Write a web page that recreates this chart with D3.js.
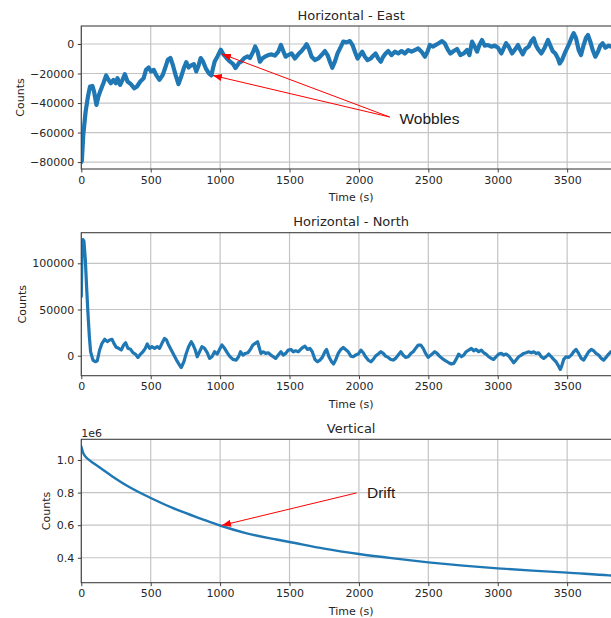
<!DOCTYPE html>
<html><head><meta charset="utf-8">
<script src="https://cdn.jsdelivr.net/npm/d3@7"></script>
<style>body{margin:0;background:#fff}svg{display:block}</style>
</head><body>
<svg id="c" width="611" height="618"></svg>
<script>
// ---------- data ----------
const xTicks = [0, 500, 1000, 1500, 2000, 2500, 3000, 3500];
const eastTicks = [0, -20000, -40000, -60000, -80000];
const northTicks = [0, 50000, 100000];
const vertTicks = [400000, 600000, 800000, 1000000];
const titles = ["Horizontal - East", "Horizontal - North", "Vertical"];

const eastT = [0,4,14,31,48,63,80,92,109,123,140,159,179,196,213,232,249,261,280,297,314,333,357,382,401,425,449,466,485,502,522,539,563,587,604,623,642,659,679,700,720,739,756,773,792,811,828,845,860,877,896,918,937,949,961,981,1005,1022,1046,1070,1094,1111,1135,1154,1174,1198,1215,1239,1253,
1270,1287,1304,1323,1347,1371,1395,1419,1438,1455,1472,1491,1515,1539,1563,1587,1611,1623,1640,1659,1683,1707,1731,1755,1774,1791,1808,1827,1846,1870,1887,1911,1935,1954,1971,1990,2007,2024,2043,2062,2086,2103,2120,2139,2158,2175,2192,2211,2235,2259,2283,2307,2331,2355,2379,2403,2427,2451,2475,2494,2511,2535,
2551,2575,2599,2618,2642,2659,2683,2707,2731,2755,2779,2796,2815,2834,2851,2868,2887,2906,2930,2954,2978,3002,3026,3043,3060,3079,3103,3127,3146,3163,3180,3199,3223,3242,3259,3276,3295,3314,3338,3362,3379,3396,3415,3434,3446,3463,3482,3499,3516,3535,3547,3564,3583,3600,3619,3636,3650,3667,3684,3703,3722,3739,3756,3775,3799,3816,3840];
const eastV = [-80000,-79000,-61700,-45900,-35600,-28800,-28400,-32200,-41300,-35600,-31100,-26600,-21300,-24300,-26600,-24300,-26600,-23200,-27700,-24300,-20400,-25400,-27200,-30000,-28800,-25400,-23200,-17500,-15900,-18600,-17500,-20900,-24300,-20900,-16300,-10700,-9500,-14100,-20900,-27200,-22000,-16300,-12300,-15900,-14500,-13600,-18600,-14500,-9500,-11800,-16300,-19700,-21300,-16300,-11800,-8400,-3900,-6800,-9500,-11800,-13600,-16300,-12900,-11800,-9500,-8400,-9500,-5000,-1700,
-5200,-12000,-9800,-8600,-7500,-7000,-7900,-5200,-700,-4800,-8600,-7500,-6400,-9800,-7000,-4800,-1800,-200,-3400,-8600,-10900,-9800,-7500,-4800,-7500,-12000,-16100,-12000,-6400,-1800,1600,1100,2000,-700,-5200,-9800,-7500,-5200,-8600,-10900,-9800,-7900,-6400,-9800,-12000,-8600,-6400,-4800,-7500,-5200,-6400,-4800,-6400,-4100,-5200,-4100,-3000,-5200,-8600,-5200,-700,-1800,
-700,500,2000,500,-4100,-6400,-4800,-3400,-7500,-6400,-4100,-7500,1600,-1800,-5200,-700,2700,-1100,-700,-1800,-1100,-2500,-6400,-3000,500,-1800,-6400,-3400,-700,-4100,-7000,-3400,-1800,2000,3900,-1100,-4100,-6400,-2500,2700,-1100,-4800,-6400,-9800,-13200,-10900,-6400,-3000,500,5000,7300,3900,-4100,-7500,-700,4300,6100,1600,-4100,-8600,-5200,-1100,500,-2500,-1100,-1800,-1500];

const northT = [0,5,12,19,29,38,48,58,67,84,101,115,132,149,168,187,204,221,235,252,269,288,305,319,336,355,372,389,408,427,444,461,475,492,509,528,547,564,581,600,614,629,648,667,686,708,720,739,756,773,792,806,821,835,852,869,888,907,924,941,960,979,996,1013,1032,1051,1068,1092,1116,1133,1147,1164,1181,1200,1219,1236,1253,
1270,1280,1294,1311,1328,1347,1366,1383,1400,1419,1438,1455,1472,1491,1510,1527,1544,1563,1587,1611,1630,1647,1664,1683,1702,1719,1736,1755,1767,1784,1803,1817,1832,1851,1870,1887,1904,1923,1942,1959,1976,1995,2014,2031,2048,2067,2086,2103,2120,2139,2158,2175,2192,2211,2230,2247,2264,2283,2302,2319,2336,2355,2374,2391,2408,2427,2446,2463,2480,2499,2518,
2546,2563,2580,2599,2623,2647,2666,2683,2700,2719,2738,2755,2772,2791,2810,2827,2844,2863,2882,2899,2916,2935,2954,2971,2988,3007,3026,3043,3060,3079,3098,3115,3132,3151,3170,3187,3204,3223,3242,3259,3276,3295,3314,3331,3348,3367,3386,3403,3420,3434,3451,3463,3475,3492,3511,3530,3547,3564,3583,3602,3619,3636,3655,3674,3691,3708,3727,3746,3763,3780,3799,3816,3840];
const northV = [64100,114800,125700,123900,104000,75000,46000,20600,4300,-4700,-6500,-5400,6200,13400,17800,15200,17000,17800,13400,9100,8000,6200,11600,14100,8000,6900,3300,1800,-1800,1800,4300,8000,12700,8000,9800,8000,9800,8000,13400,18800,17000,11600,6200,700,-4700,-10100,-12700,-6500,2500,9800,15200,11600,6200,-1100,4300,9800,8000,3300,-2900,-1100,4300,1800,6900,11600,8000,3300,-400,-4000,-4700,-1100,4300,700,2500,3300,6900,11600,13400,
15100,9700,2500,4300,2500,3200,700,-1100,-2900,700,4300,700,2500,6100,6800,4300,5400,4300,7900,10400,6800,7900,4300,-4000,-6500,-4700,-1800,4300,6800,-1100,-6500,-9000,-4700,2500,6800,9000,6800,4300,-400,-1100,700,1800,6100,3200,-1100,-4700,-6500,-4000,-400,1800,4300,2500,-400,-1800,-4000,-4700,-2900,700,4300,700,-1800,-1100,2500,4300,7900,11500,11500,7900,2500,-1800,700,
4300,2500,-400,-2900,-5400,-7600,-9000,-8300,-4000,1800,-1100,700,4300,6100,7900,5400,6800,4300,6100,3200,1800,-1100,-2900,-4000,-1100,1800,2500,700,1800,-400,-4000,-7600,-4700,-1100,700,2500,3200,4300,3200,4300,2500,3200,-1100,-2900,-1100,1800,-1100,-4000,-6500,-10100,-14800,-10100,-4000,-1100,-1800,700,4300,6800,2500,-2900,-4700,-400,4300,6800,5400,2500,700,-2900,-4700,-1800,1800,4300,6000];

const vertT = [0,12,29,60,120,216,336,500,697,865,1000,1178,1406,1500,1750,2000,2250,2500,2750,3000,3250,3500,3800,3900];
const vertV = [1084000,1047000,1022000,998000,961000,904000,839000,767000,692000,639000,598000,553000,512000,497000,456000,423000,396000,372000,352000,335000,321000,309000,292000,288000];

// annotations (data coordinates)
const wobblesText = {t: 2292, v: -50170, label: "Wobbles"};
const wobblesTail = {t: 2222, v: -49490};
const wobblesTips = [{t: 1014, v: -6780}, {t: 948, v: -21290}];
const driftText = {t: 2058, v: 804000, label: "Drift"};
const driftTail = {t: 1983, v: 798000};
const driftTip = {t: 1014, v: 599000};

// ---------- layout ----------
const left = 81.3, right = 621;
const svg = d3.select("#c");
const x = d3.scaleLinear().domain([0, 3888]).range([left, right]);

const panels = [
  {title: titles[0], top: 26, bottom: 169, domain: [-84700, 12200], ticks: eastTicks,
   fmt: d3.format("d"), t: eastT, v: eastV, sw: 4.2, ylabX: 19.5, titleY: 19.5, curve: d3.curveLinear},
  {title: titles[1], top: 232.7, bottom: 375.7, domain: [-21600, 133100], ticks: northTicks,
   fmt: d3.format("d"), t: northT, v: northV, sw: 3.2, ylabX: 21.5, titleY: 226, curve: d3.curveLinear},
  {title: titles[2], top: 439.3, bottom: 582.7, domain: [247000, 1127000], ticks: vertTicks,
   fmt: d => (d / 1e6).toFixed(1), t: vertT, v: vertV, sw: 2.4, ylabX: 46, titleY: 432.5, curve: d3.curveMonotoneX, offset: "1e6"}
];

const defs = svg.append("defs");
defs.append("marker").attr("id", "ah").attr("markerUnits", "userSpaceOnUse")
  .attr("markerWidth", 10).attr("markerHeight", 8).attr("refX", 9).attr("refY", 3.5)
  .attr("orient", "auto")
  .append("path").attr("d", "M0,0 L9,3.5 L0,7 Z").attr("fill", "#ff0000");

const textColor = "#262626";
const font = "DejaVu Sans, sans-serif";

panels.forEach((p, i) => {
  const y = d3.scaleLinear().domain(p.domain).range([p.bottom, p.top]);
  p.y = y;
  const g = svg.append("g");
  defs.append("clipPath").attr("id", "clip" + i).append("rect")
    .attr("x", left).attr("y", p.top).attr("width", right - left).attr("height", p.bottom - p.top);

  // grid
  g.selectAll(".vg").data(xTicks).join("line")
    .attr("x1", d => x(d)).attr("x2", d => x(d)).attr("y1", p.top).attr("y2", p.bottom)
    .attr("stroke", "#c4c4c4").attr("stroke-width", 1.2);
  g.selectAll(".hg").data(p.ticks).join("line")
    .attr("x1", left).attr("x2", right).attr("y1", d => y(d)).attr("y2", d => y(d))
    .attr("stroke", "#c4c4c4").attr("stroke-width", 1.2);

  // line
  const pts = p.t.map((t, k) => [t, p.v[k]]);
  g.append("path").datum(pts)
    .attr("clip-path", `url(#clip${i})`)
    .attr("d", d3.line().x(d => x(d[0])).y(d => y(d[1])).curve(p.curve))
    .attr("fill", "none").attr("stroke", "#1f77b4").attr("stroke-width", p.sw)
    .attr("stroke-linejoin", "round").attr("stroke-linecap", "round");

  // spines
  g.append("rect").attr("x", left).attr("y", p.top).attr("width", right - left).attr("height", p.bottom - p.top)
    .attr("fill", "none").attr("stroke", "#404040").attr("stroke-width", 1.1);

  // axes
  const xa = g.append("g").attr("transform", `translate(0,${p.bottom})`)
    .call(d3.axisBottom(x).tickValues(xTicks).tickFormat(d3.format("d")).tickSize(3.5).tickSizeOuter(0).tickPadding(3.5));
  const ya = g.append("g").attr("transform", `translate(${left},0)`)
    .call(d3.axisLeft(y).tickValues(p.ticks).tickFormat(p.fmt).tickSize(3.5).tickSizeOuter(0).tickPadding(3.5));
  [xa, ya].forEach(a => {
    a.select(".domain").remove();
    a.selectAll("line").attr("stroke", "#404040").attr("stroke-width", 1);
    a.selectAll("text").attr("fill", textColor).style("font-family", font).style("font-size", "11px");
  });

  // labels
  g.append("text").attr("x", (left + right) / 2).attr("y", p.bottom + 32)
    .attr("text-anchor", "middle").attr("fill", textColor)
    .style("font-family", font).style("font-size", "11px").text("Time (s)");
  g.append("text").attr("transform", `translate(${p.ylabX + 4},${(p.top + p.bottom) / 2}) rotate(-90)`)
    .attr("text-anchor", "middle").attr("fill", textColor)
    .style("font-family", font).style("font-size", "11px").text("Counts");
  g.append("text").attr("x", (left + right) / 2).attr("y", p.titleY)
    .attr("text-anchor", "middle").attr("fill", textColor)
    .style("font-family", font).style("font-size", "13px").text(p.title);
  if (p.offset) {
    g.append("text").attr("x", left).attr("y", p.top - 2.5)
      .attr("fill", textColor).style("font-family", font).style("font-size", "11px").text(p.offset);
  }
});

// annotations
const ann = svg.append("g");
const y0 = panels[0].y, y2 = panels[2].y;
wobblesTips.forEach(tp => {
  ann.append("line").attr("x1", x(wobblesTail.t)).attr("y1", y0(wobblesTail.v))
    .attr("x2", x(tp.t)).attr("y2", y0(tp.v))
    .attr("stroke", "#ff0000").attr("stroke-width", 1).attr("marker-end", "url(#ah)");
});
ann.append("text").attr("x", x(wobblesText.t)).attr("y", y0(wobblesText.v)).attr("dy", "0.36em")
  .attr("fill", "#1a1a1a").style("font-family", "Liberation Sans, Arial, sans-serif").style("font-size", "15.5px")
  .text(wobblesText.label);
ann.append("line").attr("x1", x(driftTail.t)).attr("y1", y2(driftTail.v))
  .attr("x2", x(driftTip.t)).attr("y2", y2(driftTip.v))
  .attr("stroke", "#ff0000").attr("stroke-width", 1).attr("marker-end", "url(#ah)");
ann.append("text").attr("x", x(driftText.t)).attr("y", y2(driftText.v)).attr("dy", "0.36em")
  .attr("fill", "#1a1a1a").style("font-family", "Liberation Sans, Arial, sans-serif").style("font-size", "15.5px")
  .text(driftText.label);
</script>
</body></html>
